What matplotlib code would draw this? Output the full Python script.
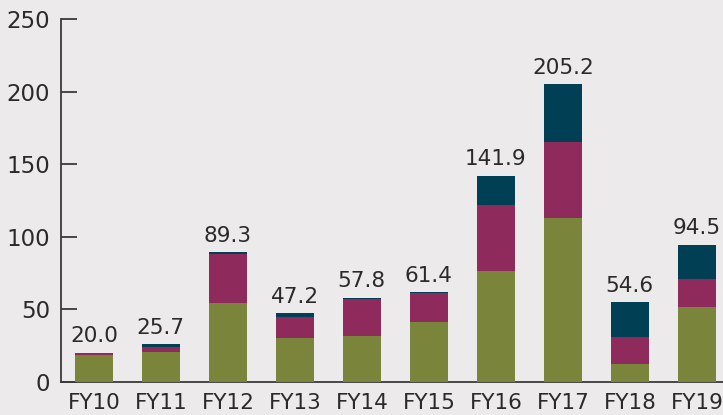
import matplotlib
matplotlib.use("Agg")
import matplotlib.pyplot as plt
import numpy as np

categories = ["FY10", "FY11", "FY12", "FY13", "FY14", "FY15", "FY16", "FY17", "FY18", "FY19"]
green_vals = [18.3, 20.6, 54.3, 30.2, 31.4, 41.2, 76.4, 113.0, 12.3, 51.6]
magenta_vals = [1.1, 3.2, 33.6, 14.3, 25.7, 19.8, 45.3, 52.4, 18.6, 19.3]
totals = [20.0, 25.7, 89.3, 47.2, 57.8, 61.4, 141.9, 205.2, 54.6, 94.5]
navy_vals = [round(t - g - m, 1) for t, g, m in zip(totals, green_vals, magenta_vals)]
yticks = [0, 50, 100, 150, 200, 250]

bg = "#ECEAEB"
c_green = "#7A843A"
c_mag = "#8F2A5D"
c_navy = "#003F54"
c_axis = "#3A3A3A"
c_text = "#2A2A2A"

plt.rcParams['font.family'] = ['DejaVu Sans']
fig = plt.figure(figsize=(7.23, 4.15), dpi=100, facecolor=bg)
ax = fig.add_axes([0.0844, 0.0807, 1 - 0.0844, 0.954 - 0.0807])
ax.set_facecolor(bg)

x = np.arange(len(categories))
w = 0.567
g = np.array(green_vals)
m = np.array(magenta_vals)
n = np.array(navy_vals)
ax.bar(x, g, w, color=c_green, zorder=3)
ax.bar(x, m, w, bottom=g, color=c_mag, zorder=3)
ax.bar(x, n, w, bottom=g + m, color=c_navy, zorder=3)

for xi, t in zip(x, totals):
    ax.annotate(f"{t:.1f}", (xi, t), xytext=(0, 7.5), textcoords="offset points",
                ha="center", va="baseline", fontsize=15.5, color=c_text)

ax.set_xlim(-0.49, 9.39)
ax.set_ylim(0, 250)
ax.set_yticks(yticks)
ax.set_xticks(x)
ax.set_xticklabels(categories, fontsize=15.5, color=c_text)
ax.tick_params(axis='x', length=0, pad=8)
ax.tick_params(axis='y', direction='in', length=11.5, width=1.3, color=c_axis,
               labelsize=16.5, labelcolor=c_text, pad=8)
for s in ['top', 'right']:
    ax.spines[s].set_visible(False)
for s in ['left', 'bottom']:
    ax.spines[s].set_color(c_axis)
    ax.spines[s].set_linewidth(1.3)

fig.savefig("out.png", dpi=100, facecolor=bg)
